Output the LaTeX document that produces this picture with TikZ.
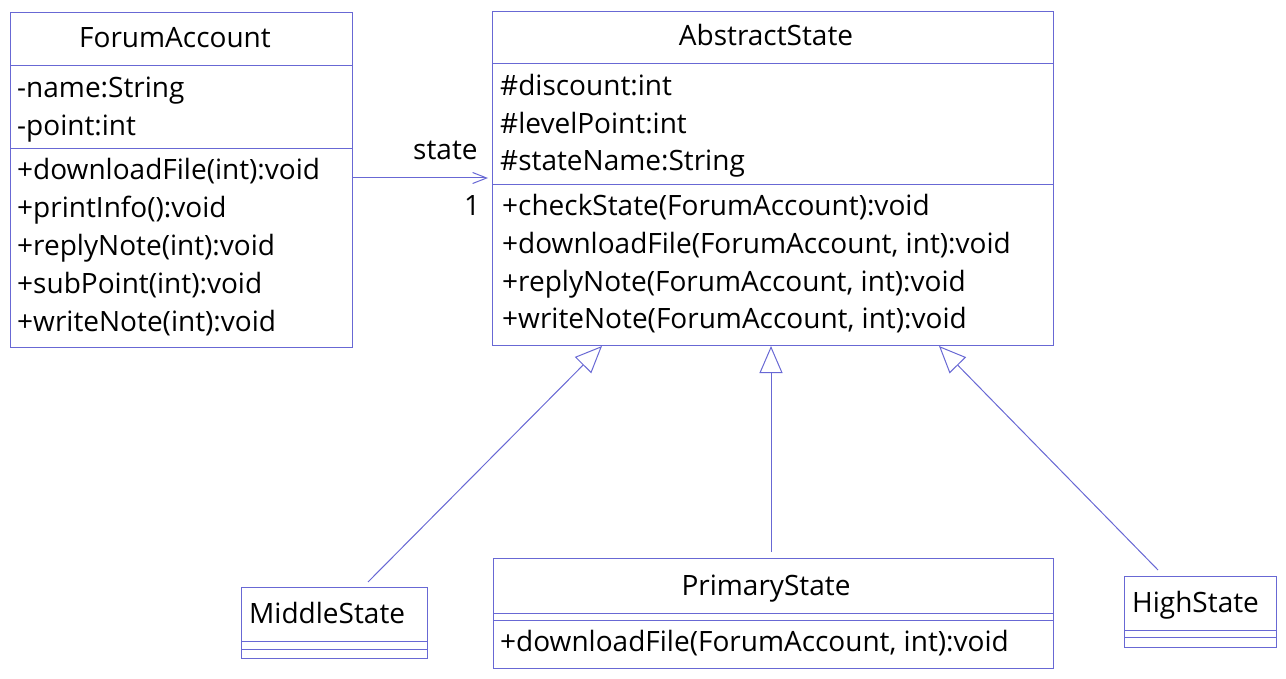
\documentclass[tikz,border=0pt]{standalone}
\usepackage{fontspec}
\setmainfont{Open Sans}
\usetikzlibrary{arrows.meta,calc}
\definecolor{uml}{RGB}{104,104,212}
\begin{document}
\begin{tikzpicture}[x=1pt,y=-1pt,
  box/.style={draw=uml, line width=1pt, inner sep=0pt, anchor=north west},
  txt/.style={anchor=base west, inner sep=0pt, font=\fontsize{28}{32}\selectfont},
  ttl/.style={anchor=base, inner sep=0pt, font=\fontsize{28}{32}\selectfont},
  div/.style={draw=uml, line width=1pt},
  gen/.style={draw=uml, line width=1pt, -{Triangle[length=27pt,width=23pt,fill=white]}},
  assoc/.style={draw=uml, line width=1pt, -{Straight Barb[length=14pt,width=11pt]}}]
\useasboundingbox (0,0) rectangle (1286,679);
% ForumAccount
\node[box, minimum width=342pt, minimum height=335pt] (fa) at (10,12) {};
\draw[div] (10,66) -- (352,66);
\draw[div] (10,149) -- (352,149);
\node[ttl] (fat) at (175,48) {ForumAccount};
\node[txt] (fa1) at (17,98) {-name:String};
\node[txt] (fa2) at (17,136) {-point:int};
\node[txt] (fa3) at (17,180) {+downloadFile(int):void};
\node[txt] (fa4) at (17,218) {+printInfo():void};
\node[txt] (fa5) at (17,256) {+replyNote(int):void};
\node[txt] (fa6) at (17,294) {+subPoint(int):void};
\node[txt] (fa7) at (17,331) {+writeNote(int):void};
% AbstractState
\node[box, minimum width=561pt, minimum height=334pt] (as) at (492,11) {};
\draw[div] (492,64) -- (1053,64);
\draw[div] (492,185) -- (1053,185);
\node[ttl] (ast) at (766,46) {AbstractState};
\node[txt] (as1) at (500,96) {\#discount:int};
\node[txt] (as2) at (500,134) {\#levelPoint:int};
\node[txt] (as3) at (500,171) {\#stateName:String};
\node[txt] (as4) at (502,216) {+checkState(ForumAccount):void};
\node[txt] (as5) at (502,254) {+downloadFile(ForumAccount, int):void};
\node[txt] (as6) at (502,291) {+replyNote(ForumAccount, int):void};
\node[txt] (as7) at (502,329) {+writeNote(ForumAccount, int):void};
% MiddleState
\node[box, minimum width=186pt, minimum height=71pt] (ms) at (241,587) {};
\draw[div] (241,641) -- (427,641);
\draw[div] (241,649) -- (427,649);
\node[txt] (mst) at (249,623) {MiddleState};
% PrimaryState
\node[box, minimum width=560pt, minimum height=110pt] (ps) at (493,558) {};
\draw[div] (493,613) -- (1053,613);
\draw[div] (493,620) -- (1053,620);
\node[ttl] (pst) at (766,595) {PrimaryState};
\node[txt] (ps1) at (500,651) {+downloadFile(ForumAccount, int):void};
% HighState
\node[box, minimum width=152pt, minimum height=71pt] (hs) at (1124,576) {};
\draw[div] (1124,630) -- (1276,630);
\draw[div] (1124,637) -- (1276,637);
\node[txt] (hst) at (1132,612) {HighState};
% association
\draw[assoc, shorten >=4pt] (fa.east |- 0,178) -- (as.west |- 0,178);
\node[txt] (lstate) at (413,160) {state};
\node[txt] (lone) at (464,216) {1};
% generalizations
\draw[gen] ($(ms.north west)+(127,-5)$) -- ($(as.south west)+(110,0)$);
\draw[gen, shorten <=6pt] (ps.north -| 771,0) -- (as.south -| 771,0);
\draw[gen] ($(hs.north west)+(34,-6)$) -- ($(as.south west)+(447,0)$);
\end{tikzpicture}
\end{document}
